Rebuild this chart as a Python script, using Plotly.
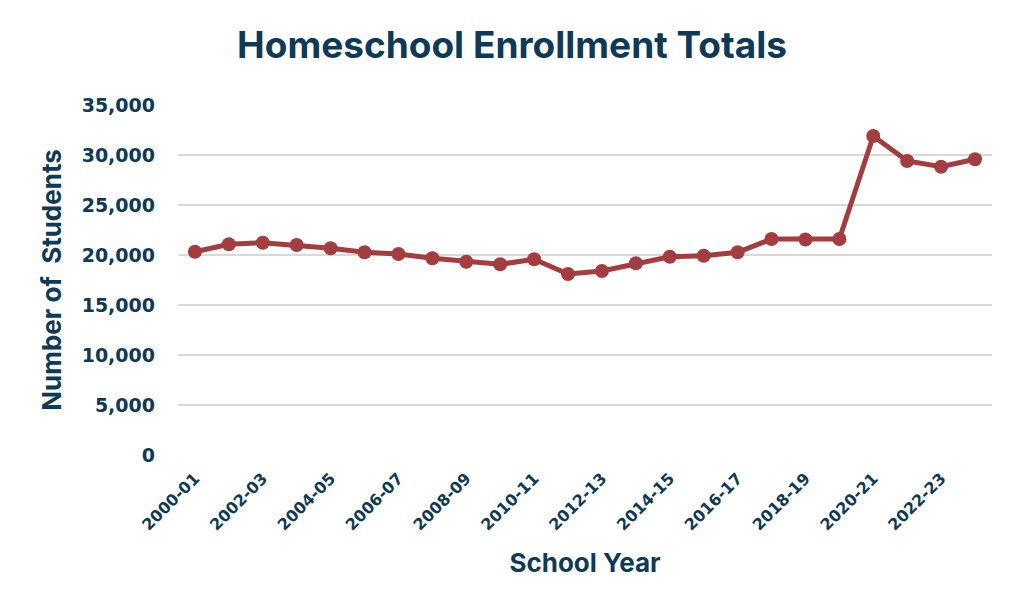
import plotly.graph_objects as go

school_years = ["2000-01", "2001-02", "2002-03", "2003-04", "2004-05", "2005-06",
                "2006-07", "2007-08", "2008-09", "2009-10", "2010-11", "2011-12",
                "2012-13", "2013-14", "2014-15", "2015-16", "2016-17", "2017-18",
                "2018-19", "2019-20", "2020-21", "2021-22", "2022-23", "2023-24"]
students = [20330, 21070, 21230, 21000, 20670, 20270, 20100, 19670, 19330, 19070,
            19570, 18100, 18400, 19170, 19830, 19930, 20270, 21600, 21550, 21600,
            31900, 29400, 28830, 29570]
y_ticks = [0, 5000, 10000, 15000, 20000, 25000, 30000, 35000]
x_tick_labels = school_years[::2]

navy = "#0E3A55"
red = "#A33D3F"

fig = go.Figure()
fig.add_trace(go.Scatter(
    x=school_years, y=students, mode="lines+markers",
    line=dict(color=red, width=5),
    marker=dict(color=red, size=14),
    showlegend=False, hoverinfo="x+y",
))

fig.update_layout(
    width=1024, height=614,
    margin=dict(l=178, r=32, t=105, b=159),
    paper_bgcolor="white", plot_bgcolor="white",
    title=dict(text="Homeschool Enrollment Totals", x=0.5, xanchor="center",
               y=1 - 45 / 614, yanchor="middle",
               font=dict(family="Inter", size=37, color=navy, weight="bold")),
    xaxis=dict(
        type="category", range=[-0.5, len(school_years) - 0.5],
        tickmode="array", tickvals=x_tick_labels, ticktext=x_tick_labels,
        tickangle=-45, showgrid=False, showline=False, zeroline=False,
        ticklabelstandoff=10,
        tickfont=dict(family="DejaVu Sans", size=16, color=navy, weight="bold"),
        title=dict(text="School Year", standoff=20,
                   font=dict(family="Inter", size=26, color=navy, weight="bold")),
    ),
    yaxis=dict(
        range=[0, 35000], tickmode="array", tickvals=y_ticks,
        tickformat=",", showgrid=True, gridcolor="#D9D9D9", gridwidth=1.5,
        zeroline=False, showline=False, ticks="", ticklabelstandoff=22,
        tickfont=dict(family="DejaVu Sans", size=19, color=navy, weight="bold"),
        title=dict(text="Number of  Students", standoff=12,
                   font=dict(family="Inter", size=26, color=navy, weight="bold")),
    ),
)

fig.write_html("out.html")
